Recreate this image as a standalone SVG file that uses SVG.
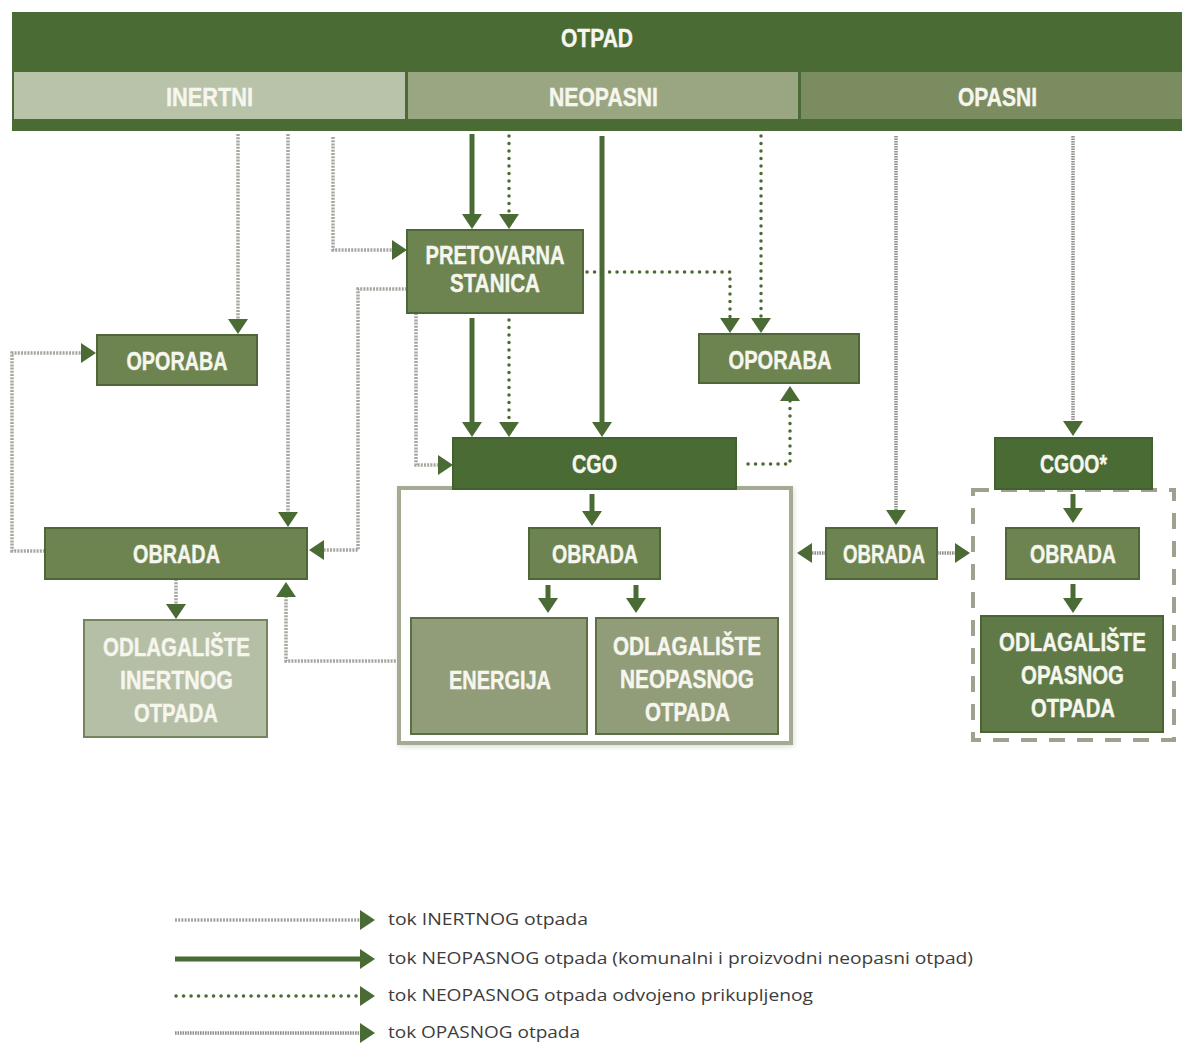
<svg xmlns="http://www.w3.org/2000/svg" width="1182" height="1046" viewBox="0 0 1182 1046">
<style>
.bg{fill:#ffffff}
.t{font-family:"Liberation Sans",Arial,sans-serif;font-weight:bold;font-size:25px;fill:#f6f6ee;stroke:#f6f6ee;stroke-width:0.4;text-anchor:middle}
.lg{font-family:"Open Sans","Noto Sans",sans-serif;font-size:16px;fill:#3c3c3c}
.mid{fill:#6d8451;stroke:#4d6836;stroke-width:2}
.dark{fill:#4a6b34;stroke:#43612f;stroke-width:2}
.light{fill:#b5bfa6;stroke:#73845f;stroke-width:2}
.pale{fill:#919c78;stroke:#5b6f45;stroke-width:2}
.opn{fill:#5f7a46;stroke:#4a6534;stroke-width:2}
.in{fill:none;stroke:#a5a69e;stroke-width:3.5;stroke-dasharray:2 1.2}
.ne{fill:none;stroke:#4a6b34;stroke-width:5}
.dt{fill:none;stroke:#4a6b34;stroke-width:3.5;stroke-dasharray:0.1 7.4;stroke-linecap:round}
.op{fill:none;stroke:#8f908a;stroke-width:3.5;stroke-dasharray:1.6 0.9}
</style>
<defs>
<marker id="ah" viewBox="0 0 15 20" refX="2" refY="10" markerWidth="15" markerHeight="20" markerUnits="userSpaceOnUse" orient="auto">
<path d="M0,0 L15,10 L0,20 Z" fill="#4a6b34"/>
</marker>
<filter id="sh" x="-5%" y="-5%" width="110%" height="110%">
<feDropShadow dx="1" dy="2" stdDeviation="2.5" flood-color="#9aa58a" flood-opacity="0.35"/>
</filter>
</defs>
<rect class="bg" x="0" y="0" width="1182" height="1046"/>

<g id="header">
<rect x="12" y="12" width="1172" height="119" fill="#4b6b35"/>
<text class="t" x="597" y="47" textLength="72" lengthAdjust="spacingAndGlyphs">OTPAD</text>
</g>
<g id="inertni">
<rect x="14" y="72" width="391" height="47" fill="#b9c3aa"/>
<text class="t" x="209.5" y="106" textLength="87" lengthAdjust="spacingAndGlyphs">INERTNI</text>
</g>
<g id="neopasni">
<rect x="408" y="72" width="390" height="47" fill="#9aa681"/>
<text class="t" x="603.5" y="106" textLength="109" lengthAdjust="spacingAndGlyphs">NEOPASNI</text>
</g>
<g id="opasni">
<rect x="801" y="72" width="381" height="47" fill="#7b8c60"/>
<text class="t" x="997.5" y="106" textLength="79" lengthAdjust="spacingAndGlyphs">OPASNI</text>
</g>

<g id="cgo-container">
<rect x="399" y="488" width="392" height="255" fill="#ffffff" stroke="#a3ab93" stroke-width="4" filter="url(#sh)"/>
</g>
<g id="cgoo-container">
<rect x="973" y="490" width="201" height="250" fill="none" stroke="#9ea090" stroke-width="4" stroke-dasharray="16 12"/>
</g>

<g id="connectors">
<path class="in" d="M238,134 V321" marker-end="url(#ah)"/>
<path class="in" d="M288,134 V514" marker-end="url(#ah)"/>
<path class="in" d="M333,137 V250 H394" marker-end="url(#ah)"/>
<path class="in" d="M407,289 H358 V550 H322" marker-end="url(#ah)"/>
<path class="in" d="M416,313 V465 H440" marker-end="url(#ah)"/>
<path class="in" d="M45,551 H12 V353 H83" marker-end="url(#ah)"/>
<path class="in" d="M399,661 H286 V595" marker-end="url(#ah)"/>
<path class="in" d="M176,579 V606" marker-end="url(#ah)"/>
<path class="ne" d="M472,134 V216" marker-end="url(#ah)"/>
<path class="ne" d="M472,318 V424" marker-end="url(#ah)"/>
<path class="ne" d="M602,136 V424" marker-end="url(#ah)"/>
<path class="ne" d="M592,494 V513" marker-end="url(#ah)"/>
<path class="ne" d="M548,585 V600" marker-end="url(#ah)"/>
<path class="ne" d="M636,585 V600" marker-end="url(#ah)"/>
<path class="ne" d="M1073,494 V510" marker-end="url(#ah)"/>
<path class="ne" d="M1073,584 V600" marker-end="url(#ah)"/>
<path class="dt" d="M509,136 V216" marker-end="url(#ah)"/>
<path class="dt" d="M509,320 V424" marker-end="url(#ah)"/>
<path class="dt" d="M587,272 H730 V320" marker-end="url(#ah)"/>
<path class="dt" d="M761,136 V320" marker-end="url(#ah)"/>
<path class="dt" d="M748,464 H790 V399" marker-end="url(#ah)"/>
<path class="op" d="M896,136 V512" marker-end="url(#ah)"/>
<path class="op" d="M1073,136 V423" marker-end="url(#ah)"/>
<path class="op" d="M826,553 H810" marker-end="url(#ah)"/>
<path class="op" d="M937,553 H957" marker-end="url(#ah)"/>
</g>

<g id="pretovarna">
<rect class="mid" x="407" y="230" width="176" height="83"/>
<text class="t" x="495" y="264" textLength="139" lengthAdjust="spacingAndGlyphs">PRETOVARNA</text>
<text class="t" x="495" y="292" textLength="90" lengthAdjust="spacingAndGlyphs">STANICA</text>
</g>
<g id="oporaba-l">
<rect class="mid" x="97" y="335" width="160" height="50"/>
<text class="t" x="177" y="370" textLength="101" lengthAdjust="spacingAndGlyphs">OPORABA</text>
</g>
<g id="oporaba-r">
<rect class="mid" x="699" y="334" width="160" height="49"/>
<text class="t" x="780" y="368.5" textLength="103" lengthAdjust="spacingAndGlyphs">OPORABA</text>
</g>
<g id="cgo">
<rect class="dark" x="453" y="438" width="283" height="51"/>
<text class="t" x="594.5" y="472.5" textLength="45" lengthAdjust="spacingAndGlyphs">CGO</text>
</g>
<g id="cgoo">
<rect class="dark" x="995" y="438" width="157" height="51"/>
<text class="t" x="1073.5" y="472.5" textLength="67" lengthAdjust="spacingAndGlyphs">CGOO*</text>
</g>
<g id="obrada-l">
<rect class="mid" x="45" y="528" width="262" height="51"/>
<text class="t" x="176.5" y="563" textLength="87" lengthAdjust="spacingAndGlyphs">OBRADA</text>
</g>
<g id="obrada-c">
<rect class="mid" x="529" y="528" width="131" height="51"/>
<text class="t" x="595" y="563" textLength="86" lengthAdjust="spacingAndGlyphs">OBRADA</text>
</g>
<g id="obrada-m">
<rect class="mid" x="826" y="528" width="111" height="51"/>
<text class="t" x="884" y="563" textLength="82" lengthAdjust="spacingAndGlyphs">OBRADA</text>
</g>
<g id="obrada-r">
<rect class="mid" x="1006" y="528" width="133" height="51"/>
<text class="t" x="1073" y="563" textLength="86" lengthAdjust="spacingAndGlyphs">OBRADA</text>
</g>
<g id="odl-inertnog">
<rect class="light" x="84" y="620" width="183" height="117"/>
<text class="t" x="176.5" y="656" textLength="147" lengthAdjust="spacingAndGlyphs">ODLAGALIŠTE</text>
<text class="t" x="176.5" y="689" textLength="113" lengthAdjust="spacingAndGlyphs">INERTNOG</text>
<text class="t" x="176" y="722" textLength="84" lengthAdjust="spacingAndGlyphs">OTPADA</text>
</g>
<g id="energija">
<rect class="pale" x="411" y="618" width="176" height="116"/>
<text class="t" x="500" y="689" textLength="102" lengthAdjust="spacingAndGlyphs">ENERGIJA</text>
</g>
<g id="odl-neopasnog">
<rect class="pale" x="596" y="618" width="182" height="116"/>
<text class="t" x="687" y="655" textLength="148" lengthAdjust="spacingAndGlyphs">ODLAGALIŠTE</text>
<text class="t" x="687" y="688" textLength="134" lengthAdjust="spacingAndGlyphs">NEOPASNOG</text>
<text class="t" x="687.5" y="721" textLength="85" lengthAdjust="spacingAndGlyphs">OTPADA</text>
</g>
<g id="odl-opasnog">
<rect class="opn" x="981" y="616" width="182" height="116"/>
<text class="t" x="1072.5" y="651" textLength="147" lengthAdjust="spacingAndGlyphs">ODLAGALIŠTE</text>
<text class="t" x="1072.5" y="684" textLength="103" lengthAdjust="spacingAndGlyphs">OPASNOG</text>
<text class="t" x="1073" y="717" textLength="84" lengthAdjust="spacingAndGlyphs">OTPADA</text>
</g>

<g id="legend">
<path class="in" d="M175,920 H362" marker-end="url(#ah)"/>
<path class="ne" d="M175,959 H362" marker-end="url(#ah)"/>
<path class="dt" d="M176,996 H362" marker-end="url(#ah)"/>
<path class="op" d="M175,1033 H362" marker-end="url(#ah)"/>
<text class="lg" x="388" y="925" textLength="200" lengthAdjust="spacingAndGlyphs">tok INERTNOG otpada</text>
<text class="lg" x="388" y="964" textLength="585" lengthAdjust="spacingAndGlyphs">tok NEOPASNOG otpada (komunalni i proizvodni neopasni otpad)</text>
<text class="lg" x="388" y="1001" textLength="425" lengthAdjust="spacingAndGlyphs">tok NEOPASNOG otpada odvojeno prikupljenog</text>
<text class="lg" x="388" y="1038" textLength="192" lengthAdjust="spacingAndGlyphs">tok OPASNOG otpada</text>
</g>
</svg>
